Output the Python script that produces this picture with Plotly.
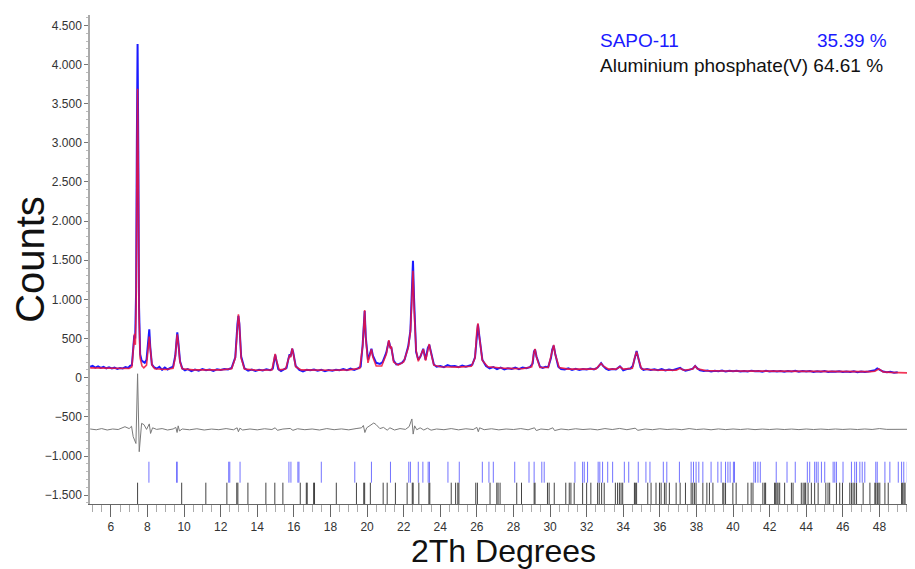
import plotly.graph_objects as go

# ---------------- data ----------------
# observed pattern (2theta, counts)
obs_pts = [
    (4.87, 140), (5.0, 150), (5.15, 128), (5.3, 145), (5.45, 125), (5.6, 138), (5.75, 120),
    (5.9, 132), (6.05, 118), (6.2, 128), (6.35, 112), (6.5, 124), (6.65, 118), (6.8, 135),
    (6.95, 125), (7.05, 150), (7.15, 160), (7.22, 400), (7.28, 540), (7.33, 500), (7.38, 1100),
    (7.42, 3000), (7.46, 4260), (7.50, 2900), (7.54, 900), (7.60, 300), (7.68, 220), (7.76, 205),
    (7.85, 190), (7.95, 230), (8.03, 450), (8.10, 618), (8.15, 400), (8.24, 170), (8.35, 135),
    (8.5, 115), (8.65, 140), (8.8, 100), (8.95, 130), (9.1, 105), (9.25, 125), (9.4, 140),
    (9.52, 280), (9.60, 520), (9.63, 580), (9.68, 470), (9.78, 210), (9.9, 120), (10.05, 95),
    (10.2, 110), (10.4, 85), (10.6, 105), (10.8, 90), (11.0, 110), (11.2, 95), (11.4, 105),
    (11.6, 88), (11.8, 108), (12.0, 100), (12.2, 112), (12.4, 105), (12.6, 125), (12.8, 260),
    (12.92, 690), (12.97, 790), (13.02, 690), (13.12, 270), (13.3, 120), (13.5, 90), (13.7, 105),
    (13.9, 85), (14.1, 100), (14.3, 92), (14.5, 108), (14.7, 95), (14.85, 115), (14.92, 220),
    (14.98, 295), (15.05, 215), (15.15, 110), (15.3, 85), (15.45, 100), (15.6, 125), (15.7, 240),
    (15.77, 300), (15.82, 270), (15.88, 350), (15.91, 370), (15.96, 330), (16.1, 150), (16.3, 100),
    (16.5, 80), (16.7, 100), (16.9, 95), (17.1, 105), (17.3, 88), (17.5, 100), (17.7, 82),
    (17.9, 98), (18.1, 90), (18.3, 100), (18.5, 95), (18.7, 110), (18.9, 95), (19.1, 115),
    (19.3, 100), (19.5, 120), (19.65, 140), (19.76, 420), (19.83, 840), (19.87, 850), (19.93, 520),
    (20.05, 230), (20.15, 300), (20.24, 370), (20.32, 280), (20.5, 190), (20.7, 175), (20.85, 200),
    (21.05, 320), (21.19, 470), (21.27, 390), (21.33, 380), (21.45, 220), (21.6, 170), (21.75, 175),
    (21.9, 190), (22.05, 230), (22.25, 400), (22.37, 600), (22.45, 1100), (22.51, 1494),
    (22.57, 1000), (22.68, 330), (22.8, 230), (22.92, 270), (23.07, 370), (23.2, 230), (23.32, 380),
    (23.40, 420), (23.48, 340), (23.65, 170), (23.8, 140), (24.0, 150), (24.2, 135), (24.4, 160),
    (24.6, 145), (24.8, 150), (25.0, 135), (25.2, 155), (25.4, 140), (25.6, 150), (25.75, 165),
    (25.9, 260), (26.0, 580), (26.06, 680), (26.13, 540), (26.3, 230), (26.5, 150), (26.7, 120),
    (26.9, 135), (27.1, 110), (27.3, 130), (27.5, 105), (27.7, 120), (27.9, 112), (28.1, 128),
    (28.3, 108), (28.5, 130), (28.7, 120), (28.9, 135), (29.05, 180), (29.12, 330), (29.18, 360),
    (29.26, 270), (29.45, 140), (29.6, 125), (29.75, 140), (29.9, 135), (30.05, 250), (30.12, 360),
    (30.20, 410), (30.28, 310), (30.45, 140), (30.6, 110), (30.8, 105), (31.0, 120), (31.2, 100),
    (31.4, 115), (31.6, 98), (31.8, 112), (32.0, 104), (32.2, 118), (32.4, 106), (32.6, 130),
    (32.7, 165), (32.79, 185), (32.9, 150), (33.05, 115), (33.2, 100), (33.4, 112), (33.6, 105),
    (33.75, 130), (33.82, 145), (33.9, 125), (34.0, 95), (34.2, 110), (34.4, 118), (34.52, 150),
    (34.62, 260), (34.73, 340), (34.82, 255), (34.95, 130), (35.1, 100), (35.3, 112), (35.5, 98),
    (35.7, 108), (35.9, 96), (36.1, 110), (36.3, 92), (36.5, 104), (36.7, 95), (36.9, 108),
    (37.05, 115), (37.11, 125), (37.2, 110), (37.4, 90), (37.6, 100), (37.8, 115), (37.93, 150),
    (38.05, 118), (38.2, 95), (38.4, 85), (38.6, 92), (38.8, 80), (39.0, 90), (39.2, 84),
    (39.4, 92), (39.6, 78), (39.8, 88), (40.0, 82), (40.2, 90), (40.4, 80), (40.6, 86), (40.8, 78),
    (41.0, 90), (41.2, 82), (41.4, 86), (41.6, 76), (41.8, 88), (42.0, 80), (42.2, 85), (42.4, 78),
    (42.6, 86), (42.8, 76), (43.0, 84), (43.2, 80), (43.4, 88), (43.6, 75), (43.8, 84), (44.0, 78),
    (44.2, 85), (44.4, 74), (44.6, 82), (44.8, 76), (45.0, 84), (45.2, 72), (45.4, 80), (45.6, 76),
    (45.8, 82), (46.0, 72), (46.2, 80), (46.4, 74), (46.6, 82), (46.8, 70), (47.0, 80), (47.2, 74),
    (47.4, 78), (47.6, 84), (47.75, 95), (47.88, 118), (47.96, 112), (48.05, 96), (48.2, 78),
    (48.4, 70), (48.6, 76), (48.8, 64), (49.0, 70),
]

# calculated (Rietveld fit) pattern
calc_pts = [
    (4.87, 125), (5.5, 122), (6.0, 118), (6.5, 115), (7.0, 118), (7.15, 140), (7.25, 420),
    (7.29, 560), (7.34, 420), (7.38, 900), (7.42, 2600), (7.46, 3690), (7.50, 2600), (7.54, 800),
    (7.60, 250), (7.70, 150), (7.8, 125), (7.95, 160), (8.05, 400), (8.10, 524), (8.15, 380),
    (8.25, 160), (8.4, 115), (9.0, 105), (9.4, 120), (9.52, 260), (9.60, 500), (9.63, 555),
    (9.68, 450), (9.78, 200), (9.9, 115), (10.5, 100), (12.0, 100), (12.6, 115), (12.8, 250),
    (12.92, 700), (12.97, 810), (13.02, 700), (13.12, 250), (13.3, 110), (14.0, 95), (14.8, 100),
    (14.92, 230), (14.98, 303), (15.05, 220), (15.2, 100), (15.55, 110), (15.7, 230), (15.77, 290),
    (15.82, 260), (15.88, 360), (15.91, 375), (15.96, 320), (16.1, 140), (16.4, 100), (17.0, 95),
    (18.0, 95), (19.0, 100), (19.6, 120), (19.76, 400), (19.83, 860), (19.87, 865), (19.93, 500),
    (20.05, 190), (20.15, 280), (20.24, 363), (20.32, 260), (20.5, 150), (20.8, 150), (21.05, 300),
    (21.19, 480), (21.27, 380), (21.33, 390), (21.45, 200), (21.7, 160), (22.0, 200), (22.25, 380),
    (22.37, 588), (22.45, 1000), (22.51, 1367), (22.57, 900), (22.68, 350), (22.8, 210),
    (22.9, 260), (23.07, 363), (23.2, 220), (23.32, 370), (23.40, 430), (23.48, 330), (23.65, 160),
    (24.0, 140), (25.0, 135), (25.7, 145), (25.9, 250), (26.0, 600), (26.06, 695), (26.13, 530),
    (26.3, 220), (26.6, 140), (27.5, 120), (28.5, 115), (29.0, 140), (29.12, 320), (29.18, 367),
    (29.26, 260), (29.45, 130), (29.9, 130), (30.1, 330), (30.20, 418), (30.28, 300), (30.5, 130),
    (31.0, 110), (32.5, 110), (32.7, 160), (32.79, 183), (32.9, 150), (33.2, 110), (33.6, 110),
    (33.82, 140), (34.0, 110), (34.5, 120), (34.62, 250), (34.73, 333), (34.82, 250), (35.0, 110),
    (36.0, 95), (36.9, 95), (37.11, 120), (37.3, 95), (37.8, 110), (37.93, 150), (38.05, 115),
    (38.5, 90), (39.5, 86), (40.5, 84), (41.5, 83), (42.5, 82), (43.5, 80), (44.5, 79), (45.5, 78),
    (46.5, 77), (47.5, 77), (47.75, 82), (47.88, 100), (47.96, 111), (48.05, 100), (48.2, 74),
    (48.6, 68), (49.0, 64), (49.5, 60), (50.1, 56), (50.5, 54),
]

# difference curve (observed - calculated), drawn with its own offset as in the reference
diff_pts = [
    (4.87, -655), (5.2, -665), (5.5, -650), (5.8, -668), (6.1, -655), (6.4, -662), (6.77, -626),
    (7.0, -650), (7.13, -620), (7.22, -753), (7.37, -840), (7.46, 50), (7.55, -945), (7.68, -583),
    (7.81, -600), (7.95, -660), (8.10, -590), (8.17, -712), (8.28, -640), (8.5, -660), (8.8, -650),
    (9.1, -668), (9.4, -655), (9.55, -635), (9.62, -700), (9.68, -615), (9.75, -680), (9.9, -655),
    (10.3, -665), (10.7, -652), (11.1, -668), (11.5, -656), (11.9, -664), (12.3, -650),
    (12.7, -665), (12.9, -640), (12.97, -690), (13.05, -645), (13.2, -668), (13.6, -655),
    (14.0, -666), (14.4, -652), (14.8, -662), (14.98, -640), (15.1, -672), (15.4, -656),
    (15.8, -648), (15.95, -672), (16.2, -652), (16.6, -664), (17.0, -655), (17.4, -668),
    (17.8, -650), (18.2, -664), (18.6, -654), (19.0, -666), (19.4, -650), (19.7, -640),
    (19.8, -610), (19.88, -700), (19.98, -640), (20.2, -610), (20.37, -578), (20.5, -600),
    (20.7, -650), (20.9, -635), (21.1, -670), (21.25, -640), (21.5, -668), (21.8, -650),
    (22.1, -660), (22.3, -625), (22.45, -527), (22.52, -720), (22.6, -615), (22.72, -665),
    (22.9, -640), (23.1, -668), (23.3, -645), (23.5, -670), (23.8, -655), (24.2, -664),
    (24.6, -650), (25.0, -666), (25.4, -652), (25.8, -662), (26.0, -635), (26.08, -690),
    (26.15, -640), (26.4, -664), (26.8, -652), (27.2, -666), (27.6, -655), (28.0, -662),
    (28.4, -650), (28.8, -665), (29.15, -640), (29.25, -675), (29.5, -655), (29.9, -664),
    (30.15, -640), (30.25, -675), (30.6, -655), (31.0, -665), (31.4, -652), (31.8, -662),
    (32.2, -655), (32.6, -666), (33.0, -650), (33.4, -662), (33.8, -648), (34.2, -664),
    (34.65, -645), (34.8, -672), (35.2, -655), (35.6, -664), (36.0, -652), (36.4, -662),
    (36.8, -655), (37.2, -664), (37.6, -650), (38.0, -662), (38.4, -655), (38.8, -665),
    (39.2, -654), (39.6, -663), (40.0, -655), (40.4, -662), (40.8, -654), (41.2, -663),
    (41.6, -656), (42.0, -662), (42.4, -655), (42.8, -662), (43.2, -656), (43.6, -663),
    (44.0, -655), (44.4, -662), (44.8, -656), (45.2, -662), (45.6, -655), (46.0, -661),
    (46.4, -656), (46.8, -662), (47.2, -655), (47.6, -661), (48.0, -650), (48.4, -660),
    (49.0, -658), (50.5, -658),
]

# reflection positions (2theta) of the two phases
sapo_ticks = [
    8.08, 9.60, 9.62, 12.44, 12.50, 13.06, 15.73, 15.84, 16.22, 16.28, 17.50, 19.33, 20.24,
    21.28, 22.28, 22.37, 22.80, 23.05, 23.34, 23.41, 24.42, 25.04, 26.30, 26.66, 26.90, 28.07,
    28.85, 29.13, 29.55, 29.68, 31.36, 31.78, 31.87, 32.05, 32.63, 32.72, 32.87, 33.15, 33.42,
    34.06, 34.30, 34.82, 35.24, 35.46, 36.19, 36.38, 37.07, 37.71, 37.84, 37.98, 38.13, 38.35,
    38.80, 39.17, 39.35, 39.59, 39.72, 39.84, 40.02, 40.08, 41.14, 41.23, 41.36, 41.49, 42.36,
    42.95, 43.40, 44.06, 44.19, 44.46, 44.55, 44.65, 44.83, 45.01, 45.47, 45.56, 45.65, 46.01,
    46.47, 46.65, 46.75, 46.93, 47.06, 47.20, 47.80, 47.88, 48.30, 48.57, 49.03, 49.21, 49.33,
    49.52, 49.66, 49.81, 49.94,
]
alpo_ticks = [
    7.46, 9.87, 11.19, 12.34, 12.88, 12.94, 13.49, 14.47, 14.96, 15.40, 16.35, 16.68, 16.73,
    17.08, 17.13, 18.32, 19.42, 19.82, 19.87, 20.18, 20.88, 21.10, 21.55, 22.19, 22.47, 22.52,
    22.83, 23.38, 23.43, 24.60, 24.84, 24.96, 25.02, 25.94, 26.03, 26.72, 27.09, 27.16, 27.27,
    28.18, 28.44, 29.13, 29.18, 29.86, 29.95, 30.23, 30.86, 31.05, 31.14, 31.32, 31.78, 32.00,
    32.23, 32.60, 32.69, 32.82, 32.96, 33.57, 33.69, 33.79, 33.88, 33.97, 34.61, 34.66, 34.73,
    35.34, 35.52, 35.79, 35.98, 36.07, 36.25, 36.34, 36.52, 36.89, 37.11, 37.40, 37.71, 37.80,
    37.89, 37.98, 38.35, 38.57, 38.71, 38.90, 39.44, 39.50, 39.59, 39.99, 40.17, 40.81, 40.99,
    41.09, 41.63, 41.73, 41.78, 42.27, 42.33, 42.40, 42.46, 42.55, 42.82, 43.19, 43.28, 43.73,
    43.83, 43.92, 43.97, 44.10, 44.28, 44.46, 44.65, 45.07, 45.19, 45.28, 45.65, 45.83, 45.98,
    46.38, 46.47, 46.56, 46.65, 46.75, 47.11, 47.48, 47.75, 47.80, 47.88, 47.93, 48.02, 48.30,
    48.48, 49.21, 49.27, 49.34, 49.40, 49.67, 49.85,
]

phase_names = ["SAPO-11", "Aluminium phosphate(V)"]
phase_fractions = ["35.39 %", "64.61 %"]

y_tickvals = [-1500, -1000, -500, 0, 500, 1000, 1500, 2000, 2500, 3000, 3500, 4000, 4500]
x_tickvals = [6, 8, 10, 12, 14, 16, 18, 20, 22, 24, 26, 28, 30, 32, 34, 36, 38, 40, 42, 44, 46, 48, 50]

# ---------------- styling ----------------
# the reference's plot area runs past the right edge of the window
X_RANGE = [4.86, 50.49]
Y_RANGE = [-1613, 4632]
SAPO_BAND = (-1073, -1341)
ALPO_BAND = (-1341, -1613)
FONT = "Liberation Sans, Arial, sans-serif"


def sticks(positions, band):
    xs, ys = [], []
    for p in positions:
        xs += [p, p, None]
        ys += [band[0], band[1], None]
    return xs, ys


fig = go.Figure()

sx, sy = sticks(alpo_ticks, ALPO_BAND)
fig.add_trace(go.Scatter(x=sx, y=sy, mode="lines", name=phase_names[1],
                         line=dict(color="rgba(20,20,20,0.8)", width=1),
                         hoverinfo="skip", showlegend=False))
sx, sy = sticks(sapo_ticks, SAPO_BAND)
fig.add_trace(go.Scatter(x=sx, y=sy, mode="lines", name=phase_names[0],
                         line=dict(color="rgba(40,40,255,0.65)", width=1),
                         hoverinfo="skip", showlegend=False))

fig.add_trace(go.Scatter(x=[p[0] for p in diff_pts], y=[p[1] for p in diff_pts],
                         mode="lines", name="Difference",
                         line=dict(color="#7a7a7a", width=1), showlegend=False))
fig.add_trace(go.Scatter(x=[p[0] for p in obs_pts], y=[p[1] for p in obs_pts],
                         mode="lines", name="Observed",
                         line=dict(color="#1a1aff", width=2), showlegend=False))
fig.add_trace(go.Scatter(x=[p[0] for p in calc_pts], y=[p[1] for p in calc_pts],
                         mode="lines", name="Calculated",
                         line=dict(color="rgba(240,20,60,0.85)", width=1.6), showlegend=False))

# The page body has an 8 px default margin, so the figure is offset by that amount.
OFF = 8
W, H = 925, 569
PLOT_LEFT, PLOT_RIGHT, PLOT_TOP, PLOT_BOTTOM = 90, 925, 15, 504   # in window pixels
L = PLOT_LEFT - OFF
R = W - (PLOT_RIGHT - OFF)
T = PLOT_TOP - OFF
B = H - (PLOT_BOTTOM - OFF)
pw, ph = W - L - R, H - T - B


def px_to_paper(xp, yp):
    return (xp - PLOT_LEFT) / pw, (PLOT_BOTTOM - yp) / ph


ax, ay = px_to_paper(598, 40)
bx, _ = px_to_paper(889, 40)
_, cy = px_to_paper(598, 66)

fig.add_annotation(x=ax, y=ay, xref="paper", yref="paper", text=phase_names[0],
                   showarrow=False, xanchor="left", yanchor="middle",
                   font=dict(family=FONT, size=19, color="#1a1aff"))
fig.add_annotation(x=bx, y=ay, xref="paper", yref="paper", text=phase_fractions[0],
                   showarrow=False, xanchor="right", yanchor="middle",
                   font=dict(family=FONT, size=19, color="#1a1aff"))
fig.add_annotation(x=ax, y=cy, xref="paper", yref="paper",
                   text=phase_names[1] + " " + phase_fractions[1],
                   showarrow=False, xanchor="left", yanchor="middle",
                   font=dict(family=FONT, size=19, color="#111111"))

# x-axis title centred under the visible part of the plot, as in the reference
fig.update_layout(
    width=W, height=H,
    margin=dict(l=L, r=R, t=T, b=B, pad=0, autoexpand=False),
    paper_bgcolor="white", plot_bgcolor="white",
    separators=",.",
    font=dict(family=FONT, color="#222"),
    showlegend=False,
    xaxis=dict(
        range=X_RANGE, tickvals=x_tickvals, showgrid=False, zeroline=False, automargin=False,
        showline=True, linecolor="#666", linewidth=1,
        ticks="outside", ticklen=12, tickcolor="#666", tickwidth=1,
        tickfont=dict(size=12, color="#333"),
        minor=dict(dtick=0.5, tick0=0, ticks="outside", ticklen=7, tickcolor="#aaa", showgrid=False),
        title=dict(text="", font=dict(size=32, color="#111")),
    ),
    yaxis=dict(
        range=Y_RANGE, tickvals=y_tickvals, separatethousands=True, showgrid=False, zeroline=False,
        automargin=False,
        showline=True, linecolor="#aaa", linewidth=1.5,
        ticks="outside", ticklen=4, tickcolor="#777", tickwidth=1,
        tickfont=dict(size=12, color="#333"),
        minor=dict(dtick=100, tick0=0, ticks="outside", ticklen=2, tickcolor="#bbb", showgrid=False),
        title=dict(text="Counts", font=dict(size=40, color="#111"), standoff=6),
    ),
)

tx, ty = px_to_paper(503, 551)
fig.add_annotation(x=tx, y=ty, xref="paper", yref="paper", text="2Th Degrees",
                   showarrow=False, xanchor="center", yanchor="middle",
                   font=dict(family=FONT, size=32, color="#111111"))

fig.write_html("out.html")
